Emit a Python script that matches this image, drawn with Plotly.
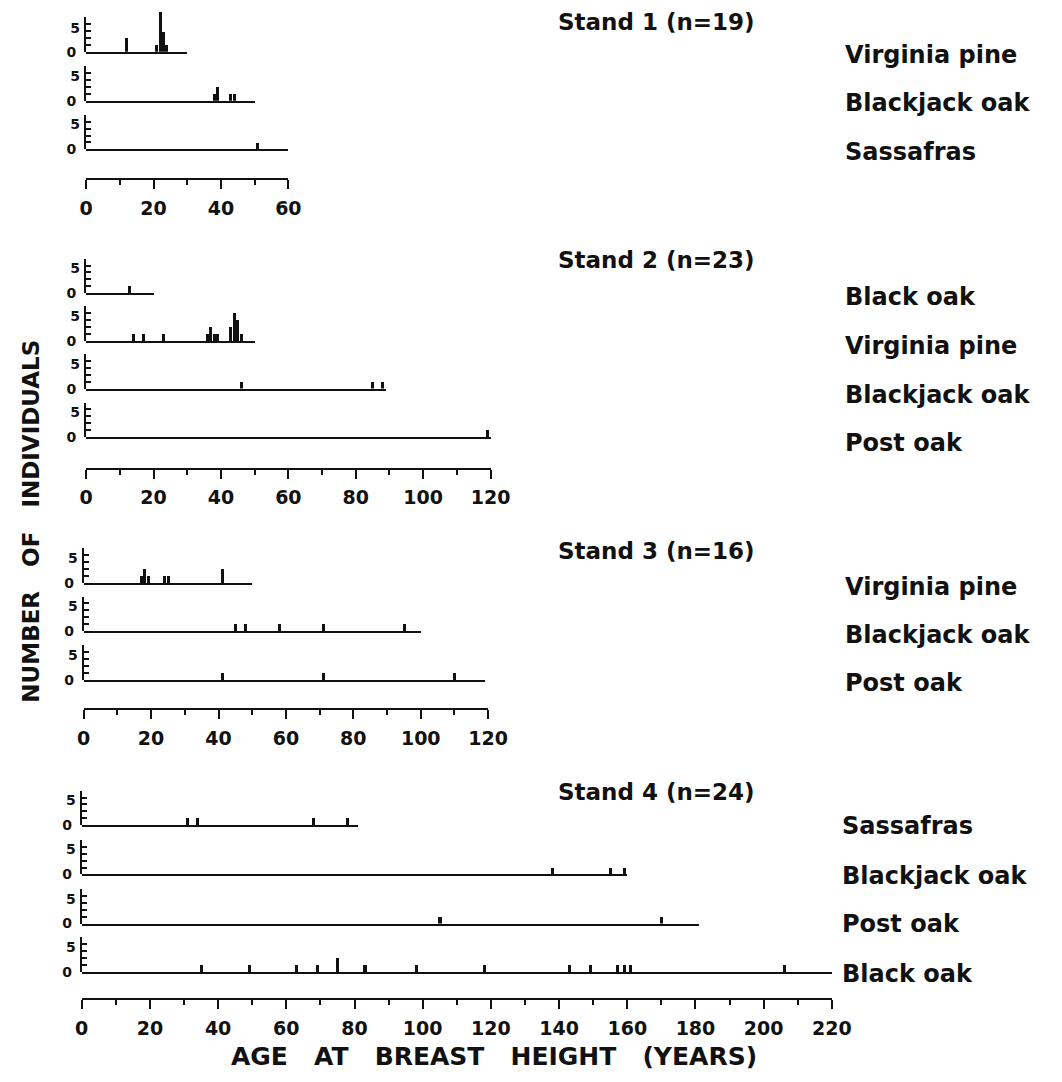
import plotly.graph_objects as go

# ---------------- data ----------------
S1_TITLE = "Stand 1 (n=19)"
S1_SPECIES = ["Virginia pine", "Blackjack oak", "Sassafras"]
S1_VP_AGE = [12, 21, 22, 23, 24]
S1_VP_N = [2, 1, 6, 3, 1]
S1_BJ_AGE = [38, 39, 43, 44]
S1_BJ_N = [1, 2, 1, 1]
S1_SA_AGE = [51]
S1_SA_N = [1]
S1_SPAN = [30, 50, 60]
S1_AXIS_MAX = 60

S2_TITLE = "Stand 2 (n=23)"
S2_SPECIES = ["Black oak", "Virginia pine", "Blackjack oak", "Post oak"]
S2_BO_AGE = [13]
S2_BO_N = [1]
S2_VP_AGE = [14, 17, 23, 36, 37, 38, 39, 43, 44, 45, 46]
S2_VP_N = [1, 1, 1, 1, 2, 1, 1, 2, 4, 3, 1]
S2_BJ_AGE = [46, 85, 88]
S2_BJ_N = [1, 1, 1]
S2_PO_AGE = [119]
S2_PO_N = [1]
S2_SPAN = [20, 50, 89, 120]
S2_AXIS_MAX = 120

S3_TITLE = "Stand 3 (n=16)"
S3_SPECIES = ["Virginia pine", "Blackjack oak", "Post oak"]
S3_VP_AGE = [17, 18, 19, 24, 25, 41]
S3_VP_N = [1, 2, 1, 1, 1, 2]
S3_BJ_AGE = [45, 48, 58, 71, 95]
S3_BJ_N = [1, 1, 1, 1, 1]
S3_PO_AGE = [41, 71, 110]
S3_PO_N = [1, 1, 1]
S3_SPAN = [50, 100, 119]
S3_AXIS_MAX = 120

S4_TITLE = "Stand 4 (n=24)"
S4_SPECIES = ["Sassafras", "Blackjack oak", "Post oak", "Black oak"]
S4_SA_AGE = [31, 34, 68, 78]
S4_SA_N = [1, 1, 1, 1]
S4_BJ_AGE = [138, 155, 159]
S4_BJ_N = [1, 1, 1]
S4_PO_AGE = [105, 170]
S4_PO_N = [1, 1]
S4_BO_AGE = [35, 49, 63, 69, 75, 83, 98, 118, 143, 149, 157, 159, 161, 206]
S4_BO_N = [1, 1, 1, 1, 2, 1, 1, 1, 1, 1, 1, 1, 1, 1]
S4_SPAN = [81, 160, 181, 220]
S4_AXIS_MAX = 220

Y_TICKS = [0, 1, 2, 3, 4, 5]
Y_TOP = 5
Y_TITLE = "NUMBER OF INDIVIDUALS"
X_TITLE = "AGE AT BREAST HEIGHT (YEARS)"

stands = [
    dict(title=S1_TITLE, species=S1_SPECIES,
         ages=[S1_VP_AGE, S1_BJ_AGE, S1_SA_AGE], counts=[S1_VP_N, S1_BJ_N, S1_SA_N],
         spans=S1_SPAN, axis_max=S1_AXIS_MAX),
    dict(title=S2_TITLE, species=S2_SPECIES,
         ages=[S2_BO_AGE, S2_VP_AGE, S2_BJ_AGE, S2_PO_AGE],
         counts=[S2_BO_N, S2_VP_N, S2_BJ_N, S2_PO_N],
         spans=S2_SPAN, axis_max=S2_AXIS_MAX),
    dict(title=S3_TITLE, species=S3_SPECIES,
         ages=[S3_VP_AGE, S3_BJ_AGE, S3_PO_AGE], counts=[S3_VP_N, S3_BJ_N, S3_PO_N],
         spans=S3_SPAN, axis_max=S3_AXIS_MAX),
    dict(title=S4_TITLE, species=S4_SPECIES,
         ages=[S4_SA_AGE, S4_BJ_AGE, S4_PO_AGE, S4_BO_AGE],
         counts=[S4_SA_N, S4_BJ_N, S4_PO_N, S4_BO_N],
         spans=S4_SPAN, axis_max=S4_AXIS_MAX),
]

# ---------------- layout geometry (page pixels) ----------------
PAGE_W, PAGE_H = 1062, 1082
BODY_MARGIN = 8                      # default browser body margin
W, H = PAGE_W - 2 * BODY_MARGIN, PAGE_H - 2 * BODY_MARGIN
FONT = "DejaVu Sans"
INK = "#111111"
UNIT_PX = 7.0
PANEL_UNITS = 6.6
NBSP = "\u00a0"

geom = [
    dict(x0=81, ppy=3.46, base=[52, 101.5, 150.5], axis_y=178.5,
         title_y=22, label_y=[55, 104, 153], label_x=858),
    dict(x0=81, ppy=3.46, base=[295.5, 343.5, 391.5, 440.5], axis_y=470.5,
         title_y=262, label_y=[299, 349, 398, 446], label_x=858),
    dict(x0=78.5, ppy=3.46, base=[587.5, 636, 685], axis_y=713,
         title_y=555, label_y=[591, 640, 688], label_x=858),
    dict(x0=76.5, ppy=3.5, base=[831.5, 881, 930.5, 979.5], axis_y=1005,
         title_y=798, label_y=[832, 883, 931, 981], label_x=855),
]
TITLE_X = 563


def fx(px):
    return max(0.0, min(1.0, (px - BODY_MARGIN) / W))


def fy(py):
    return max(0.0, min(1.0, 1 - (py - BODY_MARGIN) / H))


def bold(size):
    return dict(family=FONT, size=size, color=INK, weight="bold")


def spaced(text, n):
    return (NBSP * n).join(text.split(" "))


fig = go.Figure()
layout = {}
annotations = []
k = 0


def ax_names(k):
    s = "" if k == 1 else str(k)
    return "x" + s, "y" + s, "xaxis" + s, "yaxis" + s


for st, g in zip(stands, geom):
    x0, ppy = g["x0"], g["ppy"]
    for i, sp in enumerate(st["species"]):
        base = g["base"][i]
        span = st["spans"][i]
        # bar panel (its y axis carries the "5" label, hung just under the top tick)
        k += 1
        xn, yn, xk, yk = ax_names(k)
        fig.add_trace(go.Bar(x=st["ages"][i], y=st["counts"][i], width=0.9,
                             marker=dict(color=INK, line=dict(width=0)),
                             xaxis=xn, yaxis=yn, showlegend=False, hoverinfo="x+y"))
        layout[xk] = dict(domain=[fx(x0), fx(x0 + span * ppy)], range=[0, span],
                          anchor=yn, showline=True, linewidth=2, linecolor=INK,
                          ticks="", showticklabels=False, showgrid=False,
                          zeroline=False, fixedrange=True)
        layout[yk] = dict(domain=[fy(base), fy(base - PANEL_UNITS * UNIT_PX)],
                          range=[0, PANEL_UNITS], anchor=xn, showline=False,
                          ticks="", tickvals=[Y_TOP], ticktext=[str(Y_TOP)],
                          ticklabelposition="outside bottom", tickfont=bold(14),
                          ticklabelstandoff=5, showgrid=False, zeroline=False,
                          fixedrange=True)
        # "E" count axis (0..5), carrying the "0" label
        k += 1
        xn2, yn2, xk2, yk2 = ax_names(k)
        fig.add_trace(go.Scatter(x=[None], y=[None], xaxis=xn2, yaxis=yn2,
                                 showlegend=False, hoverinfo="skip"))
        layout[xk2] = dict(domain=[fx(x0), fx(x0 + 20)], range=[0, 1], anchor=yn2,
                           visible=False, fixedrange=True)
        layout[yk2] = dict(domain=[fy(base), fy(base - Y_TOP * UNIT_PX)],
                           range=[0, Y_TOP], anchor=xn2, showline=True, linewidth=2,
                           linecolor=INK, ticks="inside", ticklen=5, tickwidth=1.5,
                           tickcolor=INK, tickvals=Y_TICKS,
                           ticktext=["0"] + [""] * (len(Y_TICKS) - 1),
                           tickfont=bold(14), ticklabelstandoff=5,
                           showgrid=False, zeroline=False, fixedrange=True)
        annotations.append(dict(text=sp, xref="paper", yref="paper",
                                x=fx(g["label_x"]), y=fy(g["label_y"][i]),
                                xanchor="left", yanchor="middle", showarrow=False,
                                font=bold(24)))
    # stand age axis
    k += 1
    xn, yn, xk, yk = ax_names(k)
    fig.add_trace(go.Scatter(x=[None], y=[None], xaxis=xn, yaxis=yn,
                             showlegend=False, hoverinfo="skip"))
    amax = st["axis_max"]
    layout[xk] = dict(domain=[fx(x0), fx(x0 + amax * ppy)], range=[0, amax],
                      anchor=yn, showline=True, linewidth=2, linecolor=INK,
                      ticks="outside", ticklen=9, tickwidth=1.5, tickcolor=INK,
                      tick0=0, dtick=20,
                      minor=dict(ticks="outside", ticklen=5, tickwidth=1.5,
                                 tickcolor=INK, dtick=10, tick0=0, showgrid=False),
                      tickfont=bold(19), ticklabelstandoff=3,
                      showgrid=False, zeroline=False, fixedrange=True)
    layout[yk] = dict(domain=[fy(g["axis_y"] + 0.5), fy(g["axis_y"] - 1.5)],
                      range=[0, 1], anchor=xn, visible=False, fixedrange=True)
    annotations.append(dict(text=st["title"], xref="paper", yref="paper",
                            x=fx(TITLE_X), y=fy(g["title_y"]), xanchor="left",
                            yanchor="middle", showarrow=False, font=bold(23)))

annotations.append(dict(text=spaced(Y_TITLE, 3), xref="paper", yref="paper",
                        x=fx(25), y=fy(525), xanchor="center", yanchor="middle",
                        textangle=-90, showarrow=False, font=bold(23)))
annotations.append(dict(text=spaced(X_TITLE, 3), xref="paper", yref="paper",
                        x=fx(500), y=fy(1064), xanchor="center", yanchor="middle",
                        showarrow=False, font=bold(25)))

fig.update_layout(width=W, height=H, autosize=False,
                  margin=dict(l=0, r=0, t=0, b=0, pad=0),
                  paper_bgcolor="white", plot_bgcolor="rgba(0,0,0,0)",
                  showlegend=False, bargap=0, annotations=annotations,
                  font=bold(16), **layout)

fig.write_html("out.html", config={"displayModeBar": False})
